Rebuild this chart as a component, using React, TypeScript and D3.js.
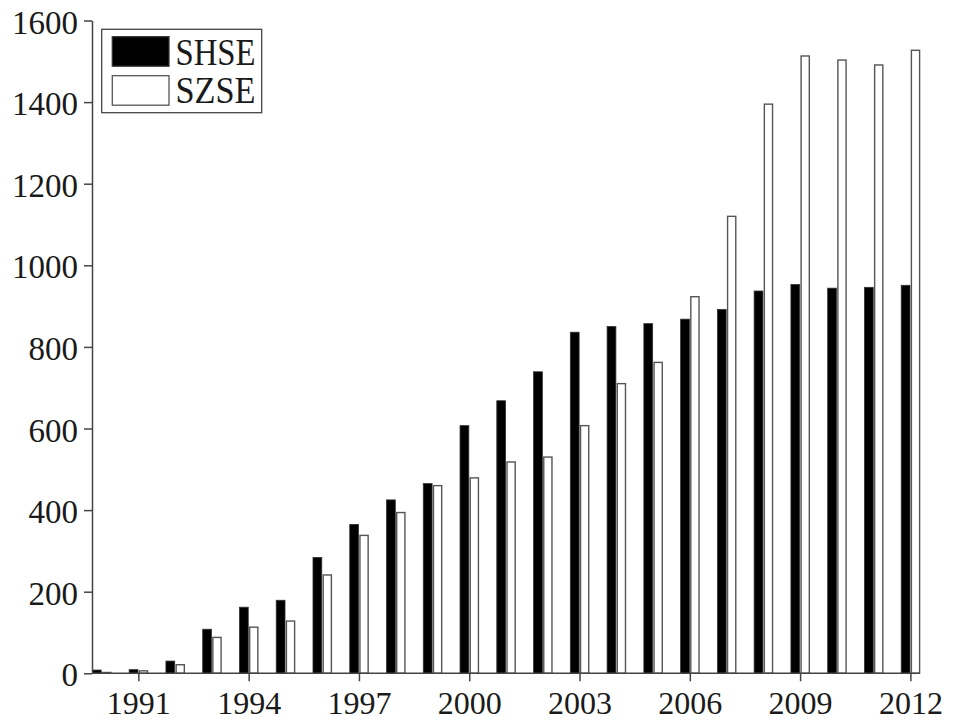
import React, { useEffect, useRef } from 'react';
import * as d3 from 'd3';

// number of listed companies per exchange, by year
const years: number[] = d3.range(1990, 2013);
const shse: number[] = [8, 9, 30, 108, 162, 179, 284, 365, 425, 465, 607, 668, 739, 836, 850, 857, 868, 892, 937, 953, 944, 946, 951];
const szse: number[] = [2, 6, 21, 88, 113, 128, 241, 338, 394, 460, 479, 518, 530, 607, 710, 762, 923, 1120, 1395, 1513, 1503, 1491, 1527];
const yTicks: number[] = [0, 200, 400, 600, 800, 1000, 1200, 1400, 1600];
const xTickYears: number[] = [1991, 1994, 1997, 2000, 2003, 2006, 2009, 2012];
const seriesNames: string[] = ['SHSE', 'SZSE'];

const App = () => {
    const chartRef = useRef<SVGSVGElement | null>(null);

    useEffect(() => {
        drawChart(chartRef.current);
    }, []);

    const drawChart = (element: SVGSVGElement | null) => {
        if (!element) return;
        const svg = d3.select(element);
        svg.selectAll('*').remove();

        const left = 92;
        const right = 920;
        const top = 20.5;
        const bottom = 673.3;
        const barW = 9.6;
        const axisColor = '#444';
        const font = '"Liberation Serif", "Times New Roman", serif';

        const x = d3.scalePoint<number>().domain(years).range([left + barW, right - barW]);
        const y = d3.scaleLinear().domain([0, 1600]).range([bottom, top]);

        // SHSE bars (black)
        svg.append('g')
            .selectAll('rect')
            .data(years)
            .enter()
            .append('rect')
            .attr('x', d => (x(d) as number) - barW + 0.4)
            .attr('y', (d, i) => y(shse[i]))
            .attr('width', barW - 0.8)
            .attr('height', (d, i) => bottom - y(shse[i]))
            .style('fill', '#000')
            .style('stroke', '#333')
            .style('stroke-width', 0.8);

        // SZSE bars (white)
        svg.append('g')
            .selectAll('rect')
            .data(years)
            .enter()
            .append('rect')
            .attr('x', d => (x(d) as number) + 1)
            .attr('y', (d, i) => y(szse[i]))
            .attr('width', barW - 1.4)
            .attr('height', (d, i) => bottom - y(szse[i]))
            .style('fill', '#fff')
            .style('stroke', '#555')
            .style('stroke-width', 1.4);

        // y axis
        const yAxis = svg.append('g')
            .attr('transform', `translate(${left},0)`)
            .call(d3.axisLeft(y).tickValues(yTicks).tickFormat(d3.format('d')).tickSize(8).tickPadding(6).tickSizeOuter(0));
        yAxis.select('.domain').attr('stroke', axisColor).attr('stroke-width', 1.5);
        yAxis.selectAll('.tick line').attr('stroke', axisColor).attr('stroke-width', 1.5);
        yAxis.selectAll('.tick text')
            .attr('fill', '#1a1a1a')
            .attr('dy', '0.38em')
            .style('font-family', font)
            .style('font-size', '33px');

        // x axis
        const xAxis = svg.append('g')
            .attr('transform', `translate(0,${bottom})`)
            .call(d3.axisBottom(x).tickValues(xTickYears).tickFormat(d3.format('d')).tickSize(8).tickPadding(9.5).tickSizeOuter(0));
        xAxis.select('.domain')
            .attr('d', `M${left},0H${right}`)
            .attr('stroke', axisColor)
            .attr('stroke-width', 1.5);
        xAxis.selectAll('.tick line').attr('stroke', axisColor).attr('stroke-width', 1.5);
        xAxis.selectAll('.tick text')
            .attr('fill', '#1a1a1a')
            .style('font-family', font)
            .style('font-size', '32px');

        // legend
        const legend = svg.append('g');
        legend.append('rect')
            .attr('x', 101.7)
            .attr('y', 29.3)
            .attr('width', 160)
            .attr('height', 83.4)
            .style('fill', '#fff')
            .style('stroke', axisColor)
            .style('stroke-width', 1.3);

        seriesNames.forEach((name, i) => {
            legend.append('rect')
                .attr('x', 112.3)
                .attr('y', 36.7 + i * 39)
                .attr('width', 56.7)
                .attr('height', 29.5)
                .style('fill', i === 0 ? '#000' : '#fff')
                .style('stroke', i === 0 ? '#333' : '#555')
                .style('stroke-width', 1.3);
            legend.append('text')
                .attr('x', 175.5)
                .attr('y', 65.3 + i * 38)
                .attr('textLength', 80)
                .attr('lengthAdjust', 'spacingAndGlyphs')
                .attr('fill', '#1a1a1a')
                .style('font-family', font)
                .style('font-size', '38px')
                .text(name);
        });
    };

    return (
        <svg
            ref={chartRef}
            width={955}
            height={721}
            style={{ position: 'absolute', left: 0, top: 0, background: '#fff' }}
        />
    );
};

export default App;
